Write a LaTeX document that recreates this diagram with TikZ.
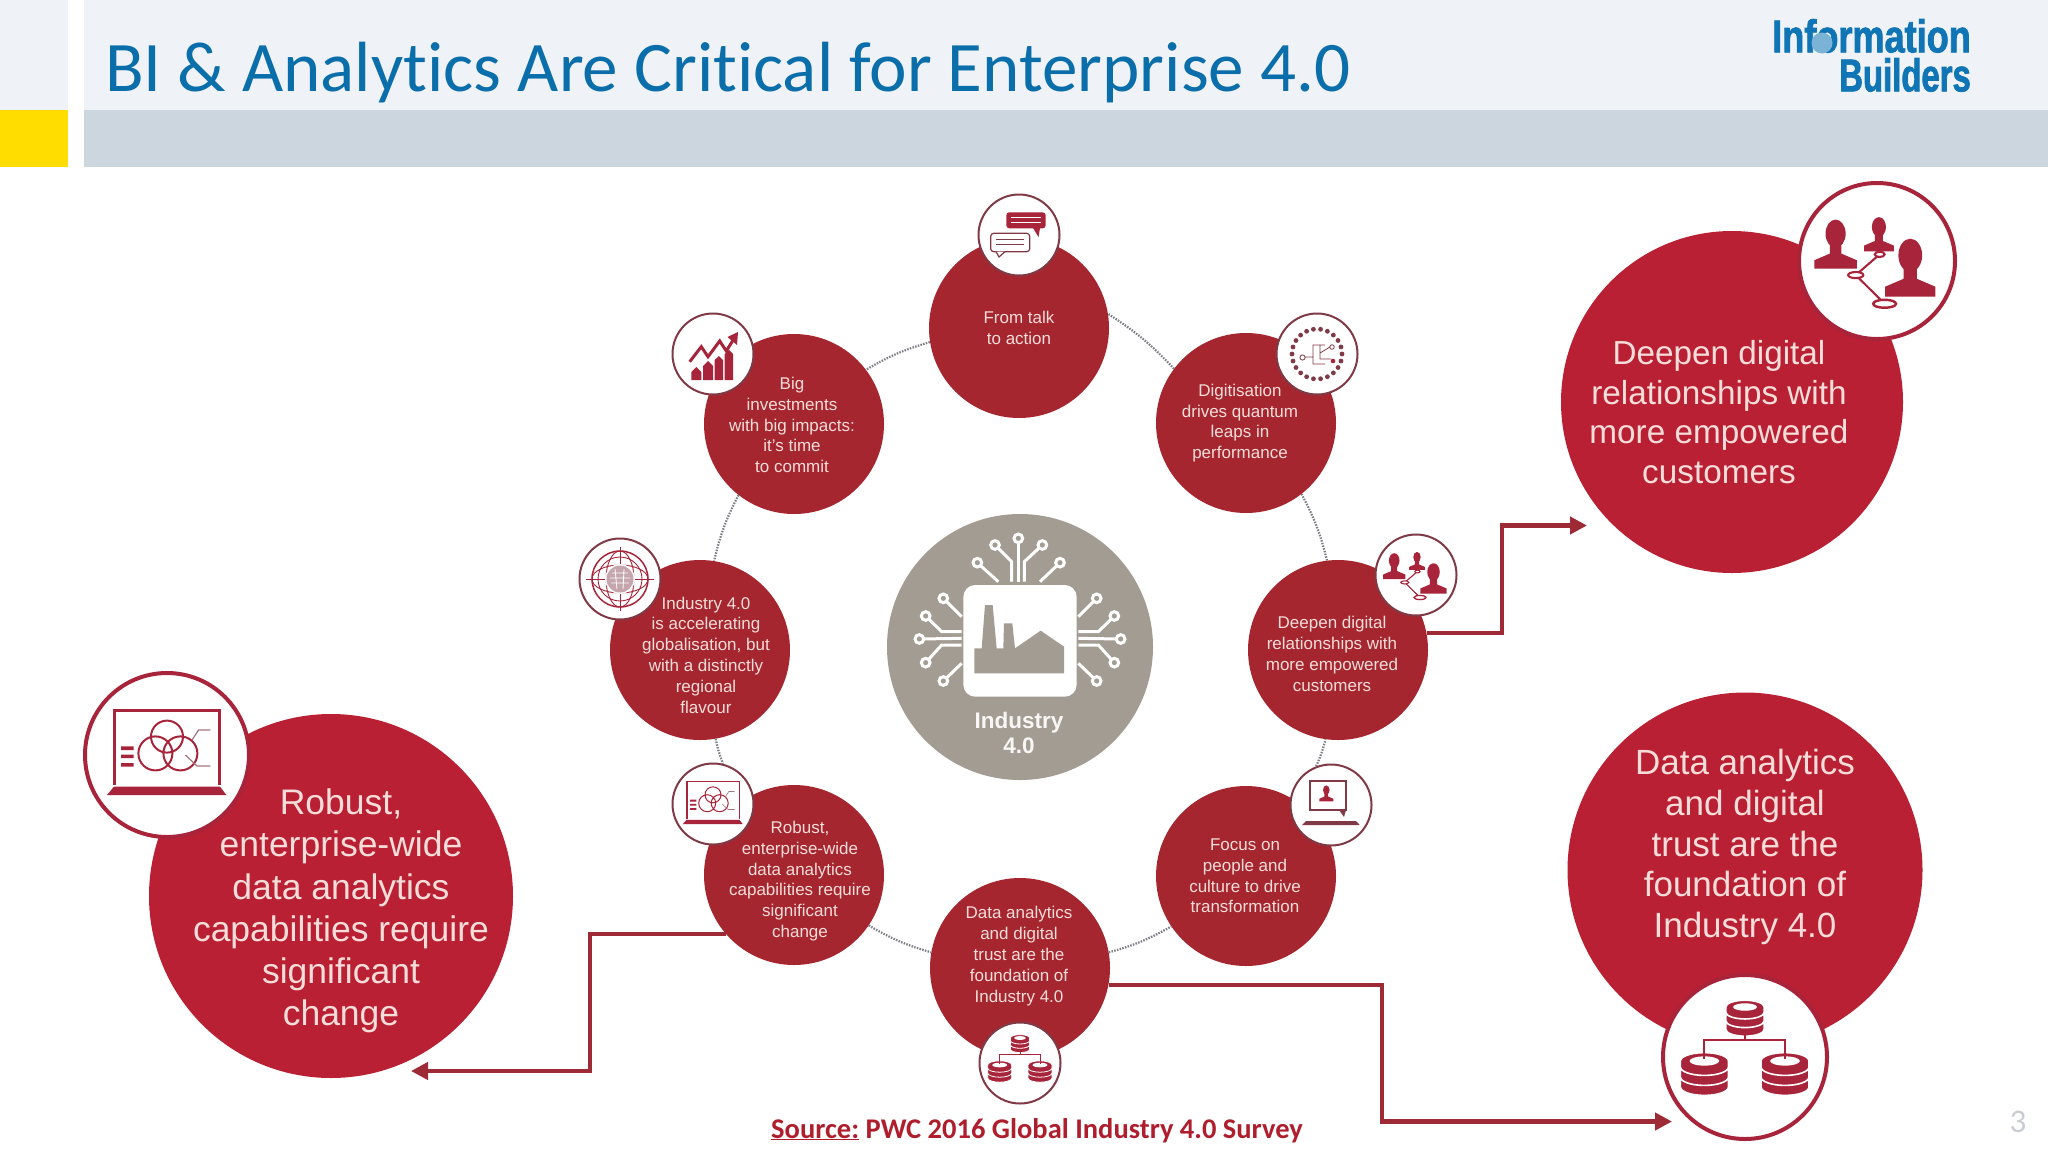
\documentclass[tikz,border=0pt]{standalone}
\usepackage{fontspec}
\setmainfont{Liberation Sans}
\newfontfamily\carlito[Ligatures=CommonOff]{Carlito}
\newfontfamily\logofont[FakeStretch=0.785,FakeBold=1.6]{Liberation Sans Bold}
\newfontfamily\logofontB[FakeStretch=0.715,FakeBold=1.6]{Liberation Sans Bold}
\usetikzlibrary{arrows.meta}
\definecolor{hdr}{HTML}{EFF2F6}
\definecolor{band}{HTML}{CBD6DF}
\definecolor{yel}{HTML}{FFDD00}
\definecolor{titleblue}{HTML}{0A6EAA}
\definecolor{logoblue}{HTML}{0F75B5}
\definecolor{smallred}{HTML}{A5262F}
\definecolor{bigred}{HTML}{BA2033}
\definecolor{linkred}{HTML}{9E2A36}
\definecolor{iconred}{HTML}{A8243A}
\definecolor{ringgrey}{HTML}{7F3A46}
\definecolor{warmgrey}{HTML}{A39C92}
\definecolor{pale}{HTML}{F6DDD9}
\definecolor{srcred}{HTML}{AF1E2D}
\definecolor{pagegrey}{HTML}{C9CDD2}
\definecolor{dotgrey}{HTML}{7D7D85}
\tikzset{
  smallcirc/.style={circle,fill=smallred,minimum size=180pt,inner sep=0pt},
  bigcirc/.style={circle,fill=bigred,inner sep=0pt},
  iconsmall/.style={circle,fill=white,draw=ringgrey,line width=2pt,minimum size=81pt,inner sep=0pt},
  iconbig/.style={circle,fill=white,draw=iconred,line width=4pt,inner sep=0pt},
  smalltxt/.style={text=pale,align=center,inner sep=0pt,font=\fontsize{17}{20.8}\selectfont},
  bigtxt/.style={text=pale,align=center,inner sep=0pt},
  linkline/.style={draw=linkred,line width=4.5pt,-{Triangle[length=17pt,width=17pt]}},
  dotlink/.style={draw=dotgrey,line width=2.2pt,dash pattern=on 1.5pt off 1.3pt},
  ray/.style={draw=white,line width=3pt},
}
% icons: local coordinates for a ring of radius 41
\newcommand\icPerson[3]{\begin{scope}[shift={(#1,#2)},scale=#3]
  \fill[iconred] (0,0) ellipse (5.3 and 7.4);
  \fill[iconred] (-11.2,18.4)--(-11.2,14)--(-3,10.5)--(-3,4)--(3,4)--(3,10.5)--(11.2,14)--(11.2,18.4)--cycle;
\end{scope}}
\newcommand\icPeople[3]{\begin{scope}[shift={(#1,#2)},scale=#3]
  \def\icS{#3}
  \icPerson{-21.8}{-14.4}{1}
  \icPerson{1}{-17.9}{.7}
  \icPerson{17.5}{-3}{1.18}
  \draw[iconred,line width={\icS*1.1pt},fill=white] (1.4,-3.5)--(-11.2,7.4)--(4,22.5);
  \draw[iconred,line width={\icS*1.1pt},fill=white] (1.4,-3.5) ellipse (2.6 and 1.4);
  \draw[iconred,line width={\icS*1.1pt},fill=white] (-11.2,7.4) ellipse (4 and 1.6);
  \draw[iconred,line width={\icS*1.3pt},fill=white] (4,22.5) ellipse (6 and 2.1);
\end{scope}}
\newcommand\icChat[3]{\begin{scope}[shift={(#1,#2)},scale=#3]
  \def\icS{#3}
  \fill[iconred,rounded corners={\icS*3pt}] (-12.7,-22.7) rectangle (26.7,-6.7);
  \fill[iconred] (14,-7)--(19.5,2)--(21,-7)--cycle;
  \draw[white,line width={\icS*1.1pt}] (-8,-17.5)--(22,-17.5) (-8,-12.2)--(22,-12.2);
  \draw[ringgrey,line width={\icS*1.2pt},rounded corners={\icS*3pt}] (-28.3,-1.7) rectangle (10.7,16.7);
  \draw[ringgrey,line width={\icS*1.2pt},fill=white] (-23,16.6)--(-20,22)--(-14,16.6);
  \draw[ringgrey,line width={\icS*1.1pt}] (-23,4.5)--(5,4.5) (-23,9.5)--(5,9.5);
\end{scope}}
\newcommand\icChart[3]{\begin{scope}[shift={(#1,#2)},scale=#3]
  \def\icS{#3}
  \fill[iconred] (-21.7,26)--(-21.7,18)--(-16.7,13)--(-11.7,18)--(-11.7,26)--cycle;
  \fill[iconred] (-10,26)--(-10,12)--(-5,7)--(0,12)--(0,26)--cycle;
  \fill[iconred] (1.7,26)--(1.7,6)--(5.8,2)--(10,6)--(10,26)--cycle;
  \fill[iconred] (11.7,26)--(11.7,0)--(16,-4)--(20,0)--(20,26)--cycle;
  \draw[iconred,line width={\icS*3pt},line join=miter] (-23.3,7.7)--(-11.7,-7.3)--(-5,2.7)--(6.7,-13)--(13.3,-3)--(22,-17);
  \fill[iconred] (25,-22)--(14.5,-17)--(24,-9)--cycle;
\end{scope}}
\newcommand\icDots[3]{\begin{scope}[shift={(#1,#2)},scale=#3]
  \def\icS{#3}
  \foreach \a in {0,16.36,...,359} \fill[ringgrey] (\a:25) circle (2.4);
  \draw[ringgrey,line width={\icS*.8pt}] (-12,3)--(-4,3)--(-4,-9)--(8,-9)
    (-4,3)--(-4,10)--(8,10) (3,-9)--(3,5)--(14,5) (3,-1)--(13,-7);
  \draw[ringgrey,line width={\icS*.8pt}] (-14.5,3.5) circle (2.6) (15,-7) circle (2.3);
  \fill[iconred] (16,7) circle (2.3);
\end{scope}}
\newcommand\icGlobe[3]{\begin{scope}[shift={(#1,#2)},scale=#3]
  \def\icS{#3}
  \draw[iconred,line width={\icS*1.5pt}] (0,0) circle (28);
  \draw[iconred,line width={\icS*.9pt}] (0,0) circle (22);
  \draw[iconred,line width={\icS*.9pt}] (-34,0)--(34,0) (0,-32)--(0,32);
  \draw[iconred,line width={\icS*.9pt}] (0,0) ellipse (14 and 28) (0,0) ellipse (28 and 14);
  \fill[white] (0,0) circle (15);
  \fill[ringgrey!45] (0,0) circle (13.5);
  \draw[white,line width={\icS*.8pt}] (-8,-6)--(8,-6) (-10,-1)--(10,-1) (-9,4)--(9,4) (-5,-10)--(-3,10) (4,-10)--(3,10);
\end{scope}}
\newcommand\icLaptop[3]{\begin{scope}[shift={(#1,#2)},scale=#3]
  \def\icS{#3}
  \draw[iconred,line width={\icS*1.5pt}] (-26.2,15)--(-26.2,-22.5)--(26.3,-22.5)--(26.3,15);
  \fill[iconred] (-30,20)--(-26.5,15.8)--(26.5,15.8)--(29.7,20)--cycle;
  \draw[iconred,line width={\icS*1pt}] (-5.8,-.8) circle (8.5) (6.7,-.8) circle (8.5) (0,-9.2) circle (8);
  \fill[iconred] (-23,-4.3) rectangle (-16.7,-2.5) (-23,-.2) rectangle (-16.7,1.6) (-23,4) rectangle (-16.7,5.8);
  \draw[ringgrey!70,line width={\icS*.6pt}] (12.5,-7.5)--(15.8,-12.5)--(21.7,-12.5) (9.2,0)--(15,5.5)--(21.7,5.5);
\end{scope}}
\newcommand\icMonitor[3]{\begin{scope}[shift={(#1,#2)},scale=#3]
  \def\icS{#3}
  \draw[ringgrey,line width={\icS*1.7pt}] (-20.7,-24) rectangle (15,5);
  \fill[ringgrey] (8,5)--(13,12)--(15,5)--cycle;
  \icPerson{-4.7}{-15}{.62}
  \fill[ringgrey] (-29,20)--(-25,16)--(25,16)--(28.7,20)--cycle;
\end{scope}}
\newcommand\icDisk[5]{% cx, y, rx, ry, thick
  \path[fill=iconred,draw=white,line width={\icS*.8pt}] (#1-#3,#2)--(#1-#3,#2+#5)
    arc[start angle=180,end angle=0,x radius=#3,y radius=#4]
    --(#1+#3,#2) arc[start angle=0,end angle=-180,x radius=#3,y radius=#4]--cycle;}
\newcommand\icStack[5]{% cx, top ellipse y, rx, ry, step
  \icDisk{#1}{#2+2*#5}{#3}{#4}{#5*.6}
  \icDisk{#1}{#2+#5}{#3}{#4}{#5*.6}
  \icDisk{#1}{#2}{#3}{#4}{#5*.6}
  \fill[white] (#1,#2) ellipse ({#3*.62} and {#4*.55});}
\newcommand\icData[3]{\begin{scope}[shift={(#1,#2)},scale=#3]
  \def\icS{#3}
  \icStack{0}{-25}{9.6}{3.4}{4.3}
  \icStack{-20.3}{2}{12}{4.2}{5}
  \icStack{20}{2}{12}{4.2}{5}
  \draw[iconred,line width={\icS*1pt}] (0,-11.5)--(0,-8.3) (-20.3,1)--(-20.3,-8.3)--(20,-8.3)--(20,1);
\end{scope}}
\begin{document}
\begin{tikzpicture}[x=1pt,y=-1pt]
\useasboundingbox (0,0) rectangle (2048,1152);
\fill[white] (0,0) rectangle (2048,1152);
% header
\fill[hdr] (0,0) rectangle (68,110);
\fill[yel] (0,110) rectangle (68,167);
\fill[hdr] (84,0) rectangle (2048,110);
\fill[band] (84,110) rectangle (2048,167);
\node[anchor=base west,inner sep=0pt,text=titleblue,font=\carlito\fontsize{71.1}{72}\selectfont] (title) at (105,91) {BI \& Analytics Are Critical for Enterprise 4.0};
\node[anchor=south east,inner sep=0pt,text=logoblue,align=right,font=\fontsize{46}{39}\selectfont] (logo) at (1971,92) {{\logofont Information}\\{\logofontB Builders}};
\fill[logoblue!55] (1822,43) circle (10.5);
% small circles
\node[smallcirc] (talk) at (1019,328) {};
\node[smallcirc] (digit) at (1246,423) {};
\node[smallcirc] (deep) at (1338,650) {};
\node[smallcirc] (focus) at (1246,876) {};
\node[smallcirc] (data) at (1020,968) {};
\node[smallcirc] (robust) at (794,875) {};
\node[smallcirc] (indus) at (700,650) {};
\node[smallcirc] (invest) at (794,424) {};
% ring icons (small)
\node[iconsmall] (talkI) at (1019,235) {};
\node[iconsmall] (digitI) at (1317,354) {};
\node[iconsmall] (deepI) at (1416,575) {};
\node[iconsmall] (focusI) at (1331,805) {};
\node[iconsmall] (dataI) at (1020,1063) {};
\node[iconsmall] (robustI) at (713,804) {};
\node[iconsmall] (indusI) at (620,579) {};
\node[iconsmall] (investI) at (713,354) {};
\icChat{1019}{235}{1}
\icDots{1317}{354}{1}
\icPeople{1416}{575}{1}
\icMonitor{1331}{805}{1}
\icData{1020}{1063}{1}
\icLaptop{713}{804}{1}
\icGlobe{620}{579}{1}
\icChart{713}{354}{1}
% dotted ring
\draw[dotlink] (talk.189) to[bend right=7] (invest.37.6);
\draw[dotlink] (invest.232) to[bend right=7] (indus.81);
\draw[dotlink] (indus.-80) to[bend right=5] (robustI.76);
\draw[dotlink] (robust.-34) to[bend right=7] (data.170);
\draw[dotlink] (data.10) to[bend right=7] (focus.214);
\draw[dotlink] (focusI.111) to[bend right=5] (deep.-98);
\draw[dotlink] (deep.97) to[bend right=7] (digit.-52);
\draw[dotlink] (digit.143) to[bend right=7] (talk.9);
% small texts
\node[smalltxt] (talkT) at (1019,328) {From talk\\to action};
\node[smalltxt] (digitT) at (1240,423) {Digitisation\\drives quantum\\leaps in\\performance};
\node[smalltxt] (deepT) at (1332,654) {Deepen digital\\relationships with\\more empowered\\customers};
\node[smalltxt] (focusT) at (1245,876) {Focus on\\people and\\culture to drive\\transformation};
\node[smalltxt] (dataT) at (1019,956) {Data analytics\\and digital\\trust are the\\foundation of\\Industry 4.0};
\node[smalltxt] (robustT) at (800,881) {Robust,\\enterprise-wide\\data analytics\\capabilities require\\significant\\change};
\node[smalltxt] (indusT) at (706,655) {Industry 4.0\\is accelerating\\globalisation, but\\with a distinctly\\regional\\flavour};
\node[smalltxt] (investT) at (792,425) {Big\\investments\\with big impacts:\\it's time\\to commit};
% centre
\node[circle,fill=warmgrey,minimum size=266pt,inner sep=0pt] (core) at (1020,647) {};
\begin{scope}[shift={(880,510)},scale=1/3]
  \foreach \a/\b/\c/\d/\e/\f in {
    415/215/415/215/415/85, 433/215/433/155/487/105, 395/215/395/155/345/105,
    355/215/355/215/292/158, 480/215/480/215/540/158,
    245/320/245/320/190/265, 245/365/185/365/137/318, 245/385/245/385/118/387,
    245/405/185/405/137/458, 245/460/245/460/190/513,
    595/320/595/320/650/265, 595/365/655/365/703/318, 595/385/595/385/722/387,
    595/405/655/405/703/458, 595/460/595/460/650/513}{
    \draw[ray] (\a,\b)--(\c,\d)--(\e,\f);
    \draw[ray,fill=warmgrey] (\e,\f) circle (13);
  }
  \fill[white,rounded corners=12pt] (250,225) rectangle (590,560);
  \fill[warmgrey] (283,490)--(283,415)--(305,415)--(315,285)--(338,285)--(350,415)--(370,415)--(372,340)--(397,340)--(405,415)--(482,362)--(552,410)--(552,490)--cycle;
\end{scope}
\node[text=white!92!warmgrey,align=center,inner sep=0pt,font=\bfseries\fontsize{22.5}{25}\selectfont] (coreT) at (1019,733) {Industry\\4.0};
% large circles
\node[bigcirc,minimum size=342pt] (deepB) at (1732,402) {};
\node[iconbig,minimum size=156pt] (deepBI) at (1877,261) {};
\icPeople{1877}{261}{1.9}
\node[bigtxt,font=\fontsize{33.3}{39.5}\selectfont] (deepBT) at (1719,412) {Deepen digital\\relationships with\\more empowered\\customers};
\node[bigcirc,minimum size=355pt] (dataB) at (1745,870) {};
\node[iconbig,minimum size=164pt] (dataBI) at (1745,1057) {};
\icData{1745}{1057}{2}
\node[bigtxt,font=\fontsize{35}{40.8}\selectfont] (dataBT) at (1745,847) {Data analytics\\and digital\\trust are the\\foundation of\\Industry 4.0};
\node[bigcirc,minimum size=364pt] (robustB) at (331,896) {};
\node[iconbig,minimum size=164pt] (robustBI) at (167,755) {};
\icLaptop{167}{755}{2}
\node[bigtxt,font=\fontsize{35.5}{42.3}\selectfont] (robustBT) at (341,911) {Robust,\\enterprise-wide\\data analytics\\capabilities require\\significant\\change};
% connectors
\coordinate (bendA) at (1502,525.5);
\coordinate (tipA) at (1587,525.5);
\draw[linkline] (deep.11.5) -| (bendA) -- (tipA);
\coordinate (bendB) at (1382,1121.5);
\coordinate (tipB) at (1672,1121.5);
\draw[linkline] (data.-11) -| (bendB) -- (tipB);
\coordinate (bendC) at (590,1071);
\coordinate (tipC) at (411,1071);
\draw[linkline] (robust.-139) -| (bendC) -- (tipC);
% footer
\node[anchor=base west,inner sep=0pt,text=srcred,font=\carlito\bfseries\fontsize{28.5}{30}\selectfont] (source) at (771,1138) {\underline{Source:} PWC 2016 Global Industry 4.0 Survey};
\node[inner sep=0pt,text=pagegrey,font=\carlito\fontsize{33}{33}\selectfont] (pageno) at (2018,1122) {3};
\end{tikzpicture}
\end{document}
